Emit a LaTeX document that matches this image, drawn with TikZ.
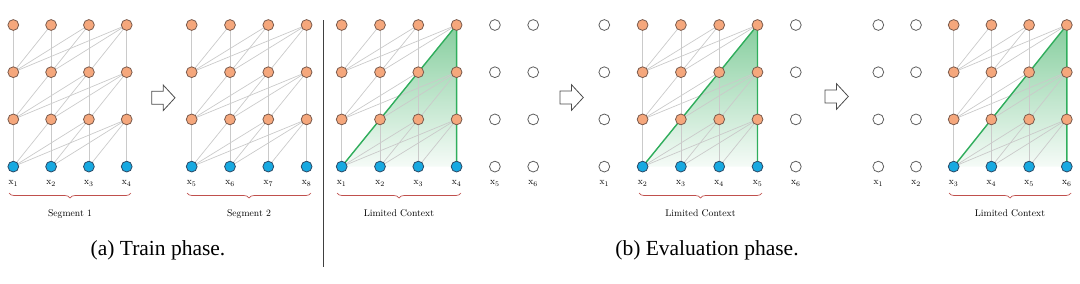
\documentclass[tikz,border=0pt]{standalone}
\usepackage{fontspec}
\newfontfamily\capfont{Liberation Serif}
\usetikzlibrary{decorations.pathreplacing}
\definecolor{orng}{HTML}{F5A77C}
\definecolor{orngb}{HTML}{7A5A4C}
\definecolor{blu}{HTML}{17A9E1}
\definecolor{blub}{HTML}{2C4A66}
\definecolor{wb}{HTML}{606060}
\definecolor{edgec}{HTML}{CACACA}
\definecolor{grn}{HTML}{2FAE5C}
\definecolor{grnf}{HTML}{86CE9E}
\definecolor{brc}{HTML}{C0504D}
\pgfdeclarelayer{bg}
\pgfdeclarelayer{mid}
\pgfsetlayers{bg,mid,main}
\tikzset{
  tok/.style={circle,minimum size=10.8pt,inner sep=0pt,line width=0.8pt},
  hid/.style={tok,draw=orngb,fill=orng},
  inp/.style={tok,draw=blub,fill=blu},
  idle/.style={tok,draw=wb,fill=white},
  edge/.style={draw=edgec,line width=0.7pt},
  ctx/.style={draw=grn,line width=1.4pt},
  xlab/.style={font=\fontsize{9.5}{10}\selectfont,inner sep=0pt},
  seglab/.style={font=\fontsize{9.7}{11}\selectfont,inner sep=0pt},
  caplab/.style={font=\capfont\fontsize{21.5}{24}\selectfont,inner sep=0pt,anchor=base},
  brc/.style={draw=brc,line width=0.7pt,decorate,decoration={brace,mirror,amplitude=5pt}},
  bigarrow/.style={draw=black!70,fill=white,line width=0.8pt,line join=miter}
}
% #1 id, #2 x0, #3 dx, #4 ncols, #5 first active, #6 last active, #7 label offset
\newcommand\drawpanel[7]{%
  \foreach \c in {1,...,#4}{%
    \pgfmathtruncatemacro\lab{\c+#7}%
    \foreach \r in {0,...,3}{%
      \ifnum\c<#5\relax
        \node[idle] (n#1-\c-\r) at ({#2+(\c-1)*#3},{166.6-\r*47.2}) {};
      \else\ifnum\c>#6\relax
        \node[idle] (n#1-\c-\r) at ({#2+(\c-1)*#3},{166.6-\r*47.2}) {};
      \else\ifnum\r=0\relax
        \node[inp] (n#1-\c-\r) at ({#2+(\c-1)*#3},{166.6-\r*47.2}) {};
      \else
        \node[hid] (n#1-\c-\r) at ({#2+(\c-1)*#3},{166.6-\r*47.2}) {};
      \fi\fi\fi
    }%
    \node[xlab] (x#1-\c) at ({#2+(\c-1)*#3},183.5) {$\mathrm{x}_{\lab}$};
  }%
  \begin{pgfonlayer}{mid}
  \foreach \r [evaluate=\r as \rr using int(\r-1)] in {1,2,3}{%
    \foreach \j in {#5,...,#6}{%
      \foreach \i in {#5,...,\j}{%
        \draw[edge] (n#1-\j-\r.center) -- (n#1-\i-\rr.center);
      }%
    }%
  }%
  \end{pgfonlayer}
}
\newcommand\ctxtri[3]{% id, first, last
  \begin{pgfonlayer}{bg}
    \shade[top color=grnf,bottom color=grnf!8] (n#1-#2-0.center) -- (n#1-#3-3.center) -- (n#1-#3-0.center) -- cycle;
  \end{pgfonlayer}
  \begin{pgfonlayer}{mid}
    \draw[ctx,line join=round] (n#1-#2-0.center) -- (n#1-#3-3.center) -- (n#1-#3-0.center);
  \end{pgfonlayer}
}
\begin{document}
\begin{tikzpicture}[x=1pt,y=-1pt]
\useasboundingbox (0,0) rectangle (1080,284);

\drawpanel{a}{13.3}{37.8}{4}{1}{4}{0}
\drawpanel{b}{191.7}{38.3}{4}{1}{4}{4}
\drawpanel{c}{341.7}{38.3}{6}{1}{4}{0}
\drawpanel{d}{604.3}{38.3}{6}{2}{5}{0}
\drawpanel{e}{878.3}{37.7}{6}{3}{6}{0}
\ctxtri{c}{1}{4}
\ctxtri{d}{2}{5}
\ctxtri{e}{3}{6}

% braces
\coordinate (ba1) at (9,193); \coordinate (ba2) at (131,193);
\draw[brc] (ba1) -- (ba2) node[midway,below=16pt,seglab] (sa) {Segment 1};
\coordinate (bb1) at (187,193); \coordinate (bb2) at (311,193);
\draw[brc] (bb1) -- (bb2) node[midway,below=16pt,seglab] (sb) {Segment 2};
\coordinate (bc1) at (337,193); \coordinate (bc2) at (461,193);
\draw[brc] (bc1) -- (bc2) node[midway,below=16pt,seglab] (sc) {Limited Context};
\coordinate (bd1) at (639,193); \coordinate (bd2) at (762,193);
\draw[brc] (bd1) -- (bd2) node[midway,below=16pt,seglab] (sd) {Limited Context};
\coordinate (be1) at (949,193); \coordinate (be2) at (1071,193);
\draw[brc] (be1) -- (be2) node[midway,below=16pt,seglab] (se) {Limited Context};

% separator
\coordinate (s1) at (323,20); \coordinate (s2) at (323,267);
\draw[line width=0.9pt,black!75] (s1) -- (s2);

% hollow arrows
\foreach \ax/\ay in {151.7/97.8, 560/97.5, 825/96.5}{
  \draw[bigarrow] (\ax,\ay-6.5) -- (\ax+11.5,\ay-6.5) -- (\ax+11.5,\ay-12.8) -- (\ax+23.3,\ay)
    -- (\ax+11.5,\ay+12.8) -- (\ax+11.5,\ay+6.5) -- (\ax,\ay+6.5) -- cycle;
}

% captions
\node[caplab] (capa) at (158,255) {(a) Train phase.};
\node[caplab] (capb) at (707,255) {(b) Evaluation phase.};
\end{tikzpicture}
\end{document}
